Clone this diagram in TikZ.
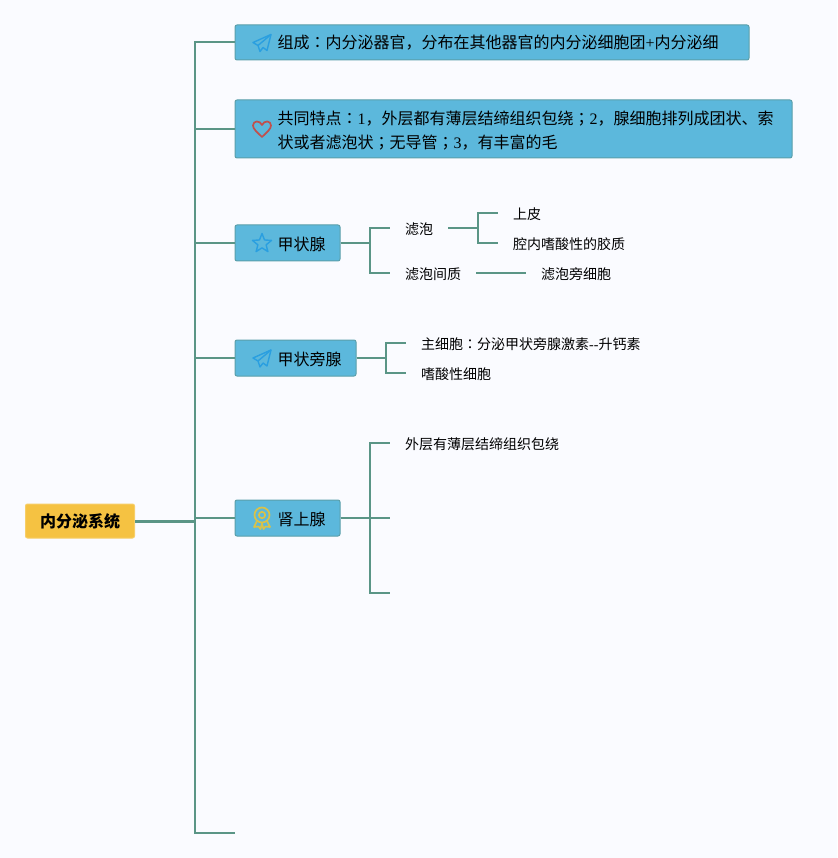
\documentclass[tikz,border=0pt]{standalone}
\usepackage{fontspec}
\setmainfont{Liberation Serif}
\newfontfamily\cjk{Noto Sans CJK SC}
\newfontfamily\cjkt{Noto Sans CJK TC}
\usetikzlibrary{shapes.geometric}
\definecolor{bgcol}{HTML}{FAFBFF}
\definecolor{boxcol}{HTML}{5CB8DC}
\definecolor{boxedge}{HTML}{5A9FAA}
\definecolor{linkcol}{HTML}{5A9586}
\definecolor{rootcol}{HTML}{F5C242}
\definecolor{bluecol}{HTML}{2A9FE0}
\definecolor{heartcol}{HTML}{C0504D}
\definecolor{medalcol}{HTML}{D8C24A}
\newcommand{\zh}[1]{{\cjk #1}}
\newcommand{\zc}[1]{{\cjkt #1}}
\tikzset{
  mainbox/.style={draw=boxedge,fill=boxcol,line width=1pt,rounded corners=2pt,inner sep=0pt},
  maintext/.style={anchor=west,inner sep=0pt,font=\fontsize{16}{24}\selectfont,align=left},
  leaf/.style={anchor=west,inner xsep=15pt,inner ysep=3pt,text height=14pt,text depth=1.4pt,font=\fontsize{14}{18}\selectfont},
  link/.style={draw=linkcol,line width=2pt},
  rootlink/.style={draw=linkcol,line width=3pt},
  icon/.style={line width=1.4pt,line join=round},
  plane/.pic={
    \draw[icon,draw=bluecol] (9,-8) -- (-9,0) -- (-4,3) -- (-2,9) -- (1,5) -- (5,8) -- cycle;
    \draw[icon,draw=bluecol] (-4,3) -- (9,-8);
  }
}
\begin{document}
\begin{tikzpicture}[x=1pt,y=-1pt]
\fill[bgcol] (0,0) rectangle (837,858);
\useasboundingbox (0,0) rectangle (837,858);
%root
\node[draw=rootcol!80!white,fill=rootcol,line width=1pt,rounded corners=2pt,minimum width=109pt,minimum height=34pt,inner sep=0pt,font=\fontsize{16}{20}\selectfont] (root) at (80,521) {\cjk\bfseries 内分泌系统};
\coordinate (spine) at (195,521);
\coordinate (tail) at (235,832.5);
%main boxes
\node[mainbox,minimum width=514pt,minimum height=35pt] (comp) at (492,42.5) {};
\node[mainbox,minimum width=557pt,minimum height=58pt] (feat) at (513.5,129) {};
\node[mainbox,minimum width=105pt,minimum height=36pt] (thyroid) at (287.5,243) {};
\node[mainbox,minimum width=121pt,minimum height=36pt] (para) at (295.5,358) {};
\node[mainbox,minimum width=105pt,minimum height=36pt] (adrenal) at (287.5,518) {};
\node[maintext] (comptext) at (277.5,43) {\zh{组成}\zc{：}\zh{内分泌器官，分布在其他器官的内分泌细胞团}+\zh{内分泌细}};
\node[maintext] (feattext) at (277.5,131) {\zh{共同特点}\zc{：}1\zh{，外层都有薄层结缔组织包绕}\zc{；}2\zh{，腺细胞排列成团状、索}\\\zh{状或者滤泡状}\zc{；}\zh{无导管}\zc{；}3\zh{，有丰富的毛}};
\node[maintext] (thyroidtext) at (277.5,244) {\zh{甲状腺}};
\node[maintext] (paratext) at (277.5,359) {\zh{甲状旁腺}};
\node[maintext] (adrenaltext) at (277.5,519) {\zh{肾上腺}};
%icons
\pic at (262,42.5) {plane};
\pic at (262,358) {plane};
\draw[icon,draw=heartcol,line width=1.7pt] (262,137) .. controls (257,132) and (253,129) .. (253,125.5) .. controls (253,120.5) and (260,120) .. (262,125) .. controls (264,120) and (271,120.5) .. (271,125.5) .. controls (271,129) and (267,132) .. (262,137) -- cycle;
\node[draw=bluecol,icon,star,star points=5,star point ratio=2.3,minimum size=20pt,inner sep=0pt] (thystar) at (262,243.5) {};
\draw[icon,draw=medalcol,line width=1.7pt] (262,515) circle (7.5);
\draw[icon,draw=medalcol,line width=1.7pt] (262,515) circle (3.2);
\draw[icon,draw=medalcol,line width=1.7pt] (257,521) -- (254,527) -- (258.5,526.5) -- (260.5,529) -- (262,523.5) -- (263.5,529) -- (265.5,526.5) -- (270,527) -- (267,521);
%leaves
\node[leaf] (foll) at (390,228.5) {\zh{滤泡}};
\node[leaf] (inter) at (390,273) {\zh{滤泡间质}};
\node[leaf] (epi) at (498,213) {\zh{上皮}};
\node[leaf] (colloid) at (498,243) {\zh{腔内嗜酸性的胶质}};
\node[leaf] (parafoll) at (526,273) {\zh{滤泡旁细胞}};
\node[leaf] (chief) at (406,343) {\zh{主细胞}\zc{：}\zh{分泌甲状旁腺激素}-{}-\zh{升钙素}};
\node[leaf] (oxy) at (406,373) {\zh{嗜酸性细胞}};
\node[leaf] (outer) at (390,443) {\zh{外层有薄层结缔组织包绕}};
\coordinate (adrmid) at (390,518);
\coordinate (adrlow) at (390,593);
%connectors
\draw[rootlink] (root.east) -- (spine);
\draw[link] (spine) |- (comp.west);
\draw[link] (spine) |- (feat.west);
\draw[link] (spine) |- (thyroid.west);
\draw[link] (spine) |- (para.west);
\draw[link] (spine) |- (adrenal.west);
\draw[link] (spine) |- (tail);
\draw[link] (thyroid.east) -- ++(29.5,0) |- (foll.west);
\draw[link] (thyroid.east) -- ++(29.5,0) |- (inter.west);
\draw[link] (foll.east) -- ++(30,0) |- (epi.west);
\draw[link] (foll.east) -- ++(30,0) |- (colloid.west);
\draw[link] (inter.east) -- (parafoll.west);
\draw[link] (para.east) -- ++(29.5,0) |- (chief.west);
\draw[link] (para.east) -- ++(29.5,0) |- (oxy.west);
\draw[link] (adrenal.east) -- ++(29.5,0) |- (outer.west);
\draw[link] (adrenal.east) -- (adrmid);
\draw[link] (adrenal.east) -- ++(29.5,0) |- (adrlow);
\end{tikzpicture}
\end{document}
